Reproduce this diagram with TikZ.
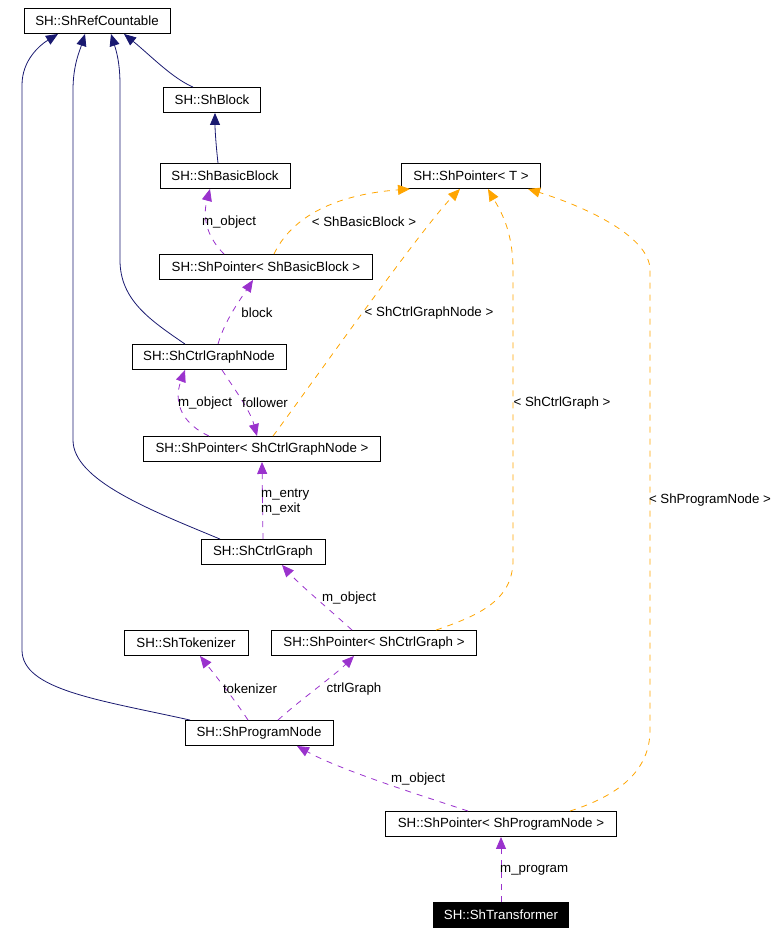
\documentclass[tikz,border=0pt]{standalone}
\usepackage{fontspec}
\setmainfont{Liberation Sans}
\usetikzlibrary{arrows.meta}

\definecolor{inhblue}{HTML}{191970}
\definecolor{usepurple}{HTML}{9A32CD}
\definecolor{tmplorange}{HTML}{FFA500}

\begin{document}
\begin{tikzpicture}[
    x=1pt, y=-1pt,
    every node/.style={font=\fontsize{13.3}{15}\selectfont},
    cls/.style={draw, line width=0.9pt, minimum height=25pt, inner sep=0pt},
    lbl/.style={inner sep=0pt, yshift=-2pt},
    inh/.style={color=inhblue, line width=0.8pt, -{Triangle[length=12pt,width=10pt]}},
    use/.style={color=usepurple, line width=0.8pt, dash pattern=on 6pt off 6pt,
        -{Triangle[length=12pt,width=10pt]}},
    tmpl/.style={color=tmplorange, line width=0.8pt, dash pattern=on 6pt off 6pt,
        -{Triangle[length=12pt,width=10pt]}}
]
\useasboundingbox (0,0) rectangle (782,935);

% === Classes ===
\node[cls, minimum width=146pt] (rc)   at (97,21)  {SH::ShRefCountable};
\node[cls, minimum width=97pt]  (blk)  at (212,100) {SH::ShBlock};
\node[cls, minimum width=130pt] (bb)   at (225,176) {SH::ShBasicBlock};
\node[cls, minimum width=139pt] (pT)   at (471,176) {SH::ShPointer< T >};
\node[cls, minimum width=213pt] (pbb)  at (266,267) {SH::ShPointer< ShBasicBlock >};
\node[cls, minimum width=154pt] (cgn)  at (209,357) {SH::ShCtrlGraphNode};
\node[cls, minimum width=237pt] (pcgn) at (262,449) {SH::ShPointer< ShCtrlGraphNode >};
\node[cls, minimum width=124pt] (cg)   at (263,552) {SH::ShCtrlGraph};
\node[cls, minimum width=124pt] (tok)  at (186,643) {SH::ShTokenizer};
\node[cls, minimum width=205pt] (pcg)  at (374,643) {SH::ShPointer< ShCtrlGraph >};
\node[cls, minimum width=148pt] (pn)   at (259,733) {SH::ShProgramNode};
\node[cls, minimum width=231pt] (ppn)  at (501,824) {SH::ShPointer< ShProgramNode >};
\node[cls, minimum width=135pt, fill=black, text=white] (tr) at (501,915) {SH::ShTransformer};

% === Inheritance (solid blue) ===
\draw[inh] ([xshift=-69pt]pn.north) .. controls (100,700) and (22,690) .. (22,650)
    -- (22,85) .. controls (22,60) and (40,45) .. ([xshift=-39pt]rc.south);
\draw[inh] ([xshift=-43pt]cg.north) .. controls (150,510) and (73,480) .. (73,440)
    -- (73,90) .. controls (73,65) and (80,50) .. ([xshift=-12pt]rc.south);
\draw[inh] ([xshift=-24pt]cgn.north) .. controls (150,320) and (120,300) .. (120,260)
    -- (120,85) .. controls (120,62) and (116,50) .. ([xshift=14pt]rc.south);
\draw[inh] ([xshift=-19pt]blk.north) .. controls (172,78) and (150,55) .. ([xshift=27pt]rc.south);
\draw[inh] ([xshift=-7pt]bb.north) .. controls (216,145) and (215,130) .. ([xshift=3pt]blk.south);

% === Members (dashed purple) ===
\draw[use] ([xshift=-42pt]pbb.north) .. controls (205,235) and (203,215) .. ([xshift=-15pt]bb.south);
\node[lbl] (l1) at (229,220) {m\_object};

\draw[use] ([xshift=9pt]cgn.north) .. controls (225,320) and (240,300) .. ([xshift=-13pt]pbb.south);
\node[lbl] (l2) at (257,311) {block};

\draw[use] ([xshift=-53pt]pcgn.north) .. controls (185,425) and (172,405) .. ([xshift=-24pt]cgn.south);
\node[lbl] (l3) at (205,401) {m\_object};

\draw[use] ([xshift=13pt]cgn.south) .. controls (235,390) and (250,410) .. ([xshift=-5pt]pcgn.north);
\node[lbl] (l4) at (265,401) {follower};

\draw[use] (cg.north) -- (pcgn.south);
\node[lbl, anchor=west, align=left] (l5) at (261,500) {m\_entry\\m\_exit};

\draw[use] ([xshift=-22pt]pcg.north) .. controls (330,610) and (300,585) .. ([xshift=19pt]cg.south);
\node[lbl] (l6) at (349,596) {m\_object};

\draw[use] ([xshift=-11pt]pn.north) .. controls (235,700) and (215,675) .. ([xshift=14pt]tok.south);
\node[lbl] (l7) at (250,687) {tokenizer};

\draw[use] ([xshift=19pt]pn.north) .. controls (300,700) and (335,675) .. ([xshift=-20pt]pcg.south);
\node[lbl] (l8) at (354,687) {ctrlGraph};

\draw[use] ([xshift=-33pt]ppn.north) .. controls (420,795) and (340,770) .. ([xshift=38pt]pn.south);
\node[lbl] (l9) at (418,777) {m\_object};

\draw[use] (tr.north) -- (ppn.south);
\node[lbl, anchor=west] (l10) at (500,868) {m\_program};

% === Template instances (dashed orange) ===
\draw[tmpl] ([xshift=8pt]pbb.north) .. controls (290,220) and (330,195) .. ([xshift=-61pt]pT.south);
\node[lbl] (t1) at (364,220) {< ShBasicBlock >};

\draw[tmpl] ([xshift=11pt]pcgn.north) .. controls (300,400) and (420,230) .. ([xshift=-11pt]pT.south);
\node[lbl] (t2) at (429,311) {< ShCtrlGraphNode >};

\draw[tmpl] ([xshift=62pt]pcg.north) .. controls (480,615) and (513,600) .. (513,560)
    -- (513,270) .. controls (513,230) and (500,210) .. ([xshift=17pt]pT.south);
\node[lbl] (t3) at (562,401) {< ShCtrlGraph >};

\draw[tmpl] ([xshift=69pt]ppn.north) .. controls (620,795) and (650,770) .. (650,730)
    -- (650,270) .. controls (650,235) and (580,205) .. ([xshift=57pt]pT.south);
\node[lbl] (t4) at (710,498) {< ShProgramNode >};

\end{tikzpicture}
\end{document}
